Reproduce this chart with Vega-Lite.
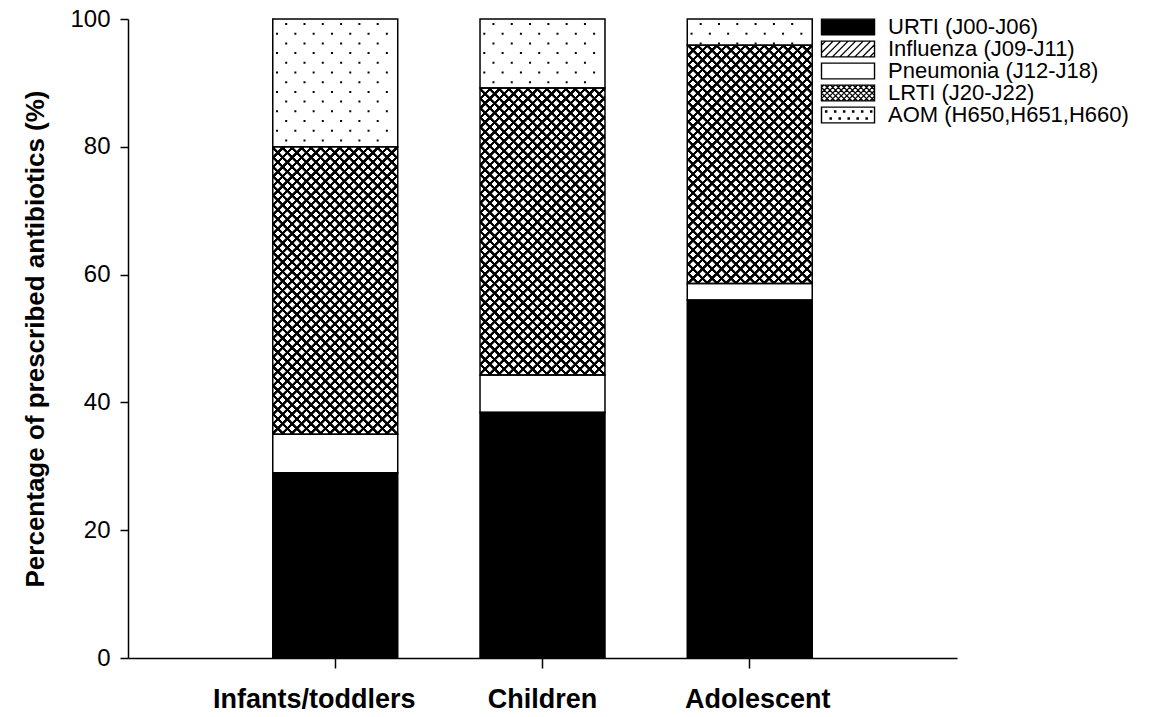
{
  "$schema": "https://vega.github.io/schema/vega-lite/v6.json",
  "width": 829,
  "height": 639,
  "autosize": "none",
  "padding": {"left": 128, "top": 19, "right": 201, "bottom": 59},
  "background": "white",
  "config": {
    "font": "Liberation Sans",
    "view": {"stroke": null},
    "axis": {"domainColor": "#000", "domainWidth": 1.5, "tickColor": "#000", "tickWidth": 1.5, "labelColor": "#000", "titleColor": "#000", "grid": false}
  },
  "params": [
    {"name": "hatchStops", "value": [
      {"offset":0,"color":"#000"},{"offset":0.0062,"color":"#000"},{"offset":0.0072,"color":"transparent"},{"offset":0.019,"color":"transparent"},
      {"offset":0.02,"color":"#000"},{"offset":0.0262,"color":"#000"},{"offset":0.0272,"color":"transparent"},{"offset":0.039,"color":"transparent"},
      {"offset":0.04,"color":"#000"},{"offset":0.0462,"color":"#000"},{"offset":0.0472,"color":"transparent"},{"offset":0.059,"color":"transparent"},
      {"offset":0.06,"color":"#000"},{"offset":0.0662,"color":"#000"},{"offset":0.0672,"color":"transparent"},{"offset":0.079,"color":"transparent"},
      {"offset":0.08,"color":"#000"},{"offset":0.0862,"color":"#000"},{"offset":0.0872,"color":"transparent"},{"offset":0.099,"color":"transparent"},
      {"offset":0.1,"color":"#000"},{"offset":0.1062,"color":"#000"},{"offset":0.1072,"color":"transparent"},{"offset":0.119,"color":"transparent"},
      {"offset":0.12,"color":"#000"},{"offset":0.1262,"color":"#000"},{"offset":0.1272,"color":"transparent"},{"offset":0.139,"color":"transparent"},
      {"offset":0.14,"color":"#000"},{"offset":0.1462,"color":"#000"},{"offset":0.1472,"color":"transparent"},{"offset":0.159,"color":"transparent"},
      {"offset":0.16,"color":"#000"},{"offset":0.1662,"color":"#000"},{"offset":0.1672,"color":"transparent"},{"offset":0.179,"color":"transparent"},
      {"offset":0.18,"color":"#000"},{"offset":0.1862,"color":"#000"},{"offset":0.1872,"color":"transparent"},{"offset":0.199,"color":"transparent"},
      {"offset":0.2,"color":"#000"},{"offset":0.2062,"color":"#000"},{"offset":0.2072,"color":"transparent"},{"offset":0.219,"color":"transparent"},
      {"offset":0.22,"color":"#000"},{"offset":0.2262,"color":"#000"},{"offset":0.2272,"color":"transparent"},{"offset":0.239,"color":"transparent"},
      {"offset":0.24,"color":"#000"},{"offset":0.2462,"color":"#000"},{"offset":0.2472,"color":"transparent"},{"offset":0.259,"color":"transparent"},
      {"offset":0.26,"color":"#000"},{"offset":0.2662,"color":"#000"},{"offset":0.2672,"color":"transparent"},{"offset":0.279,"color":"transparent"},
      {"offset":0.28,"color":"#000"},{"offset":0.2862,"color":"#000"},{"offset":0.2872,"color":"transparent"},{"offset":0.299,"color":"transparent"},
      {"offset":0.3,"color":"#000"},{"offset":0.3062,"color":"#000"},{"offset":0.3072,"color":"transparent"},{"offset":0.319,"color":"transparent"},
      {"offset":0.32,"color":"#000"},{"offset":0.3262,"color":"#000"},{"offset":0.3272,"color":"transparent"},{"offset":0.339,"color":"transparent"},
      {"offset":0.34,"color":"#000"},{"offset":0.3462,"color":"#000"},{"offset":0.3472,"color":"transparent"},{"offset":0.359,"color":"transparent"},
      {"offset":0.36,"color":"#000"},{"offset":0.3662,"color":"#000"},{"offset":0.3672,"color":"transparent"},{"offset":0.379,"color":"transparent"},
      {"offset":0.38,"color":"#000"},{"offset":0.3862,"color":"#000"},{"offset":0.3872,"color":"transparent"},{"offset":0.399,"color":"transparent"},
      {"offset":0.4,"color":"#000"},{"offset":0.4062,"color":"#000"},{"offset":0.4072,"color":"transparent"},{"offset":0.419,"color":"transparent"},
      {"offset":0.42,"color":"#000"},{"offset":0.4262,"color":"#000"},{"offset":0.4272,"color":"transparent"},{"offset":0.439,"color":"transparent"},
      {"offset":0.44,"color":"#000"},{"offset":0.4462,"color":"#000"},{"offset":0.4472,"color":"transparent"},{"offset":0.459,"color":"transparent"},
      {"offset":0.46,"color":"#000"},{"offset":0.4662,"color":"#000"},{"offset":0.4672,"color":"transparent"},{"offset":0.479,"color":"transparent"},
      {"offset":0.48,"color":"#000"},{"offset":0.4862,"color":"#000"},{"offset":0.4872,"color":"transparent"},{"offset":0.499,"color":"transparent"},
      {"offset":0.5,"color":"#000"},{"offset":0.5062,"color":"#000"},{"offset":0.5072,"color":"transparent"},{"offset":0.519,"color":"transparent"},
      {"offset":0.52,"color":"#000"},{"offset":0.5262,"color":"#000"},{"offset":0.5272,"color":"transparent"},{"offset":0.539,"color":"transparent"},
      {"offset":0.54,"color":"#000"},{"offset":0.5462,"color":"#000"},{"offset":0.5472,"color":"transparent"},{"offset":0.559,"color":"transparent"},
      {"offset":0.56,"color":"#000"},{"offset":0.5662,"color":"#000"},{"offset":0.5672,"color":"transparent"},{"offset":0.579,"color":"transparent"},
      {"offset":0.58,"color":"#000"},{"offset":0.5862,"color":"#000"},{"offset":0.5872,"color":"transparent"},{"offset":0.599,"color":"transparent"},
      {"offset":0.6,"color":"#000"},{"offset":0.6062,"color":"#000"},{"offset":0.6072,"color":"transparent"},{"offset":0.619,"color":"transparent"},
      {"offset":0.62,"color":"#000"},{"offset":0.6262,"color":"#000"},{"offset":0.6272,"color":"transparent"},{"offset":0.639,"color":"transparent"},
      {"offset":0.64,"color":"#000"},{"offset":0.6462,"color":"#000"},{"offset":0.6472,"color":"transparent"},{"offset":0.659,"color":"transparent"},
      {"offset":0.66,"color":"#000"},{"offset":0.6662,"color":"#000"},{"offset":0.6672,"color":"transparent"},{"offset":0.679,"color":"transparent"},
      {"offset":0.68,"color":"#000"},{"offset":0.6862,"color":"#000"},{"offset":0.6872,"color":"transparent"},{"offset":0.699,"color":"transparent"},
      {"offset":0.7,"color":"#000"},{"offset":0.7062,"color":"#000"},{"offset":0.7072,"color":"transparent"},{"offset":0.719,"color":"transparent"},
      {"offset":0.72,"color":"#000"},{"offset":0.7262,"color":"#000"},{"offset":0.7272,"color":"transparent"},{"offset":0.739,"color":"transparent"},
      {"offset":0.74,"color":"#000"},{"offset":0.7462,"color":"#000"},{"offset":0.7472,"color":"transparent"},{"offset":0.759,"color":"transparent"},
      {"offset":0.76,"color":"#000"},{"offset":0.7662,"color":"#000"},{"offset":0.7672,"color":"transparent"},{"offset":0.779,"color":"transparent"},
      {"offset":0.78,"color":"#000"},{"offset":0.7862,"color":"#000"},{"offset":0.7872,"color":"transparent"},{"offset":0.799,"color":"transparent"},
      {"offset":0.8,"color":"#000"},{"offset":0.8062,"color":"#000"},{"offset":0.8072,"color":"transparent"},{"offset":0.819,"color":"transparent"},
      {"offset":0.82,"color":"#000"},{"offset":0.8262,"color":"#000"},{"offset":0.8272,"color":"transparent"},{"offset":0.839,"color":"transparent"},
      {"offset":0.84,"color":"#000"},{"offset":0.8462,"color":"#000"},{"offset":0.8472,"color":"transparent"},{"offset":0.859,"color":"transparent"},
      {"offset":0.86,"color":"#000"},{"offset":0.8662,"color":"#000"},{"offset":0.8672,"color":"transparent"},{"offset":0.879,"color":"transparent"},
      {"offset":0.88,"color":"#000"},{"offset":0.8862,"color":"#000"},{"offset":0.8872,"color":"transparent"},{"offset":0.899,"color":"transparent"},
      {"offset":0.9,"color":"#000"},{"offset":0.9062,"color":"#000"},{"offset":0.9072,"color":"transparent"},{"offset":0.919,"color":"transparent"},
      {"offset":0.92,"color":"#000"},{"offset":0.9262,"color":"#000"},{"offset":0.9272,"color":"transparent"},{"offset":0.939,"color":"transparent"},
      {"offset":0.94,"color":"#000"},{"offset":0.9462,"color":"#000"},{"offset":0.9472,"color":"transparent"},{"offset":0.959,"color":"transparent"},
      {"offset":0.96,"color":"#000"},{"offset":0.9662,"color":"#000"},{"offset":0.9672,"color":"transparent"},{"offset":0.979,"color":"transparent"},
      {"offset":0.98,"color":"#000"},{"offset":0.9862,"color":"#000"},{"offset":0.9872,"color":"transparent"},{"offset":0.999,"color":"transparent"},
      {"offset":1,"color":"#000"}
    ]},
    {"name": "hatchDownIC", "expr": "{'gradient': 'linear', 'x1': 0, 'y1': 1, 'x2': 0.6052, 'y2': -0.39051, 'stops': hatchStops}"},
    {"name": "hatchUpIC", "expr": "{'gradient': 'linear', 'x1': 0, 'y1': 0, 'x2': 0.6052, 'y2': 1.39051, 'stops': hatchStops}"},
    {"name": "hatchDownAd", "expr": "{'gradient': 'linear', 'x1': 0, 'y1': 1, 'x2': 0.81969, 'y2': -0.56298, 'stops': hatchStops}"},
    {"name": "hatchUpAd", "expr": "{'gradient': 'linear', 'x1': 0, 'y1': 0, 'x2': 0.81969, 'y2': 1.56298, 'stops': hatchStops}"},
    {"name": "legendShapes", "value": {
      "URTI (J00-J06)": "M-1,-1.05H6.07V1.05H-1Z",
      "Influenza (J09-J11)": "M-1,-1.05H6.07V1.05H-1Z M-1,-0.5L-0.45,-1.05 M-1,0.5L0.55,-1.05 M-0.55,1.05L1.55,-1.05 M0.45,1.05L2.55,-1.05 M1.45,1.05L3.55,-1.05 M2.45,1.05L4.55,-1.05 M3.45,1.05L5.55,-1.05 M4.45,1.05L6.07,-0.57 M5.45,1.05L6.07,0.43",
      "Pneumonia (J12-J18)": "M-1,-1.05H6.07V1.05H-1Z",
      "LRTI (J20-J22)": "M-1,-1.05H6.07V1.05H-1Z M-1,-0.75L-0.7,-1.05 M-1,0L0.05,-1.05 M-1,0.75L0.8,-1.05 M-0.55,1.05L1.55,-1.05 M0.2,1.05L2.3,-1.05 M0.95,1.05L3.05,-1.05 M1.7,1.05L3.8,-1.05 M2.45,1.05L4.55,-1.05 M3.2,1.05L5.3,-1.05 M3.95,1.05L6.05,-1.05 M4.7,1.05L6.07,-0.32 M5.45,1.05L6.07,0.43 M-1,0.75L-0.7,1.05 M-1,0L0.05,1.05 M-1,-0.75L0.8,1.05 M-0.55,-1.05L1.55,1.05 M0.2,-1.05L2.3,1.05 M0.95,-1.05L3.05,1.05 M1.7,-1.05L3.8,1.05 M2.45,-1.05L4.55,1.05 M3.2,-1.05L5.3,1.05 M3.95,-1.05L6.05,1.05 M4.7,-1.05L6.07,0.32 M5.45,-1.05L6.07,-0.43",
      "AOM (H650,H651,H660)": "M-1,-1.05H6.07V1.05H-1Z M-0.45,-0.55h0.15v0.15h-0.15Z M0.75,-0.55h0.15v0.15h-0.15Z M1.95,-0.55h0.15v0.15h-0.15Z M3.15,-0.55h0.15v0.15h-0.15Z M4.35,-0.55h0.15v0.15h-0.15Z M5.55,-0.55h0.15v0.15h-0.15Z M0.15,0.4h0.15v0.15h-0.15Z M1.35,0.4h0.15v0.15h-0.15Z M2.55,0.4h0.15v0.15h-0.15Z M3.75,0.4h0.15v0.15h-0.15Z M4.95,0.4h0.15v0.15h-0.15Z"
    }}
  ],
  "data": {
    "values": [
      {"age": "Infants/toddlers", "cat": "URTI (J00-J06)", "pct": 29.0},
      {"age": "Infants/toddlers", "cat": "Influenza (J09-J11)", "pct": 0},
      {"age": "Infants/toddlers", "cat": "Pneumonia (J12-J18)", "pct": 6.0},
      {"age": "Infants/toddlers", "cat": "LRTI (J20-J22)", "pct": 45.0},
      {"age": "Infants/toddlers", "cat": "AOM (H650,H651,H660)", "pct": 20.0},
      {"age": "Children", "cat": "URTI (J00-J06)", "pct": 38.4},
      {"age": "Children", "cat": "Influenza (J09-J11)", "pct": 0},
      {"age": "Children", "cat": "Pneumonia (J12-J18)", "pct": 5.9},
      {"age": "Children", "cat": "LRTI (J20-J22)", "pct": 44.9},
      {"age": "Children", "cat": "AOM (H650,H651,H660)", "pct": 10.8},
      {"age": "Adolescent", "cat": "URTI (J00-J06)", "pct": 56.0},
      {"age": "Adolescent", "cat": "Influenza (J09-J11)", "pct": 0},
      {"age": "Adolescent", "cat": "Pneumonia (J12-J18)", "pct": 2.6},
      {"age": "Adolescent", "cat": "LRTI (J20-J22)", "pct": 37.3},
      {"age": "Adolescent", "cat": "AOM (H650,H651,H660)", "pct": 4.1}
    ]
  },
  "transform": [
    {"stack": "pct", "groupby": ["age"], "as": ["y0", "y1"]}
  ],
  "encoding": {
    "x": {
      "field": "age", "type": "nominal",
      "sort": ["Infants/toddlers", "Children", "Adolescent"],
      "scale": {"paddingInner": 0.397, "paddingOuter": 0.6985},
      "axis": {
        "labelAngle": 0, "labelFontSize": 27, "labelFontWeight": "bold", "labelPadding": 18, "labelLimit": 400, "tickSize": 10,
        "labelOffset": {"condition": [{"test": "datum.value === 'Infants/toddlers'", "value": -21}, {"test": "datum.value === 'Adolescent'", "value": 8}], "value": 0}
      },
      "title": null
    },
    "y": {
      "field": "y1", "type": "quantitative",
      "scale": {"domain": [0, 100], "nice": false},
      "axis": {"values": [0, 20, 40, 60, 80, 100], "labelFontSize": 24, "labelPadding": 10, "tickSize": 8, "titleFontSize": 26, "titleFontWeight": "bold", "titlePadding": 21},
      "title": "Percentage of prescribed antibiotics (%)"
    },
    "y2": {"field": "y0"}
  },
  "layer": [
    {
      "mark": {"type": "bar"},
      "encoding": {
        "fill": {
          "field": "cat", "type": "nominal",
          "scale": {
            "domain": ["URTI (J00-J06)", "Influenza (J09-J11)", "Pneumonia (J12-J18)", "LRTI (J20-J22)", "AOM (H650,H651,H660)"],
            "range": ["#000", "#fff", "#fff", "#fff", "#fff"]
          },
          "legend": {
            "orient": "none", "legendX": 690, "legendY": -3, "title": null, "padding": 0,
            "labelFontSize": 22, "labelColor": "#000", "labelOffset": 48, "labelLimit": 400,
            "symbolSize": 225, "rowPadding": 0,
            "encode": {
              "symbols": {
                "update": {
                  "shape": {"signal": "legendShapes[datum.value]"},
                  "stroke": {"value": "#000"},
                  "strokeWidth": {"value": 1.4},
                  "opacity": {"value": 1}
                }
              }
            }
          }
        }
      }
    },
    {
      "transform": [{"filter": "datum.cat === 'LRTI (J20-J22)' && datum.age !== 'Adolescent'"}],
      "mark": {"type": "bar", "fill": {"expr": "hatchDownIC"}}
    },
    {
      "transform": [{"filter": "datum.cat === 'LRTI (J20-J22)' && datum.age !== 'Adolescent'"}],
      "mark": {"type": "bar", "fill": {"expr": "hatchUpIC"}}
    },
    {
      "transform": [{"filter": "datum.cat === 'LRTI (J20-J22)' && datum.age === 'Adolescent'"}],
      "mark": {"type": "bar", "fill": {"expr": "hatchDownAd"}}
    },
    {
      "transform": [{"filter": "datum.cat === 'LRTI (J20-J22)' && datum.age === 'Adolescent'"}],
      "mark": {"type": "bar", "fill": {"expr": "hatchUpAd"}}
    },
    {
      "transform": [{"filter": "datum.cat === 'AOM (H650,H651,H660)'"}],
      "layer": [
        {"mark": {"type": "rule", "color": "#000", "strokeWidth": 2, "strokeDash": [2, 17.4], "strokeDashOffset": 5.7, "xOffset": -58.2}},
        {"mark": {"type": "rule", "color": "#000", "strokeWidth": 2, "strokeDash": [2, 17.4], "strokeDashOffset": 15.4, "xOffset": -49.05}},
        {"mark": {"type": "rule", "color": "#000", "strokeWidth": 2, "strokeDash": [2, 17.4], "strokeDashOffset": 5.7, "xOffset": -39.9}},
        {"mark": {"type": "rule", "color": "#000", "strokeWidth": 2, "strokeDash": [2, 17.4], "strokeDashOffset": 15.4, "xOffset": -30.75}},
        {"mark": {"type": "rule", "color": "#000", "strokeWidth": 2, "strokeDash": [2, 17.4], "strokeDashOffset": 5.7, "xOffset": -21.6}},
        {"mark": {"type": "rule", "color": "#000", "strokeWidth": 2, "strokeDash": [2, 17.4], "strokeDashOffset": 15.4, "xOffset": -12.45}},
        {"mark": {"type": "rule", "color": "#000", "strokeWidth": 2, "strokeDash": [2, 17.4], "strokeDashOffset": 5.7, "xOffset": -3.3}},
        {"mark": {"type": "rule", "color": "#000", "strokeWidth": 2, "strokeDash": [2, 17.4], "strokeDashOffset": 15.4, "xOffset": 5.85}},
        {"mark": {"type": "rule", "color": "#000", "strokeWidth": 2, "strokeDash": [2, 17.4], "strokeDashOffset": 5.7, "xOffset": 15}},
        {"mark": {"type": "rule", "color": "#000", "strokeWidth": 2, "strokeDash": [2, 17.4], "strokeDashOffset": 15.4, "xOffset": 24.15}},
        {"mark": {"type": "rule", "color": "#000", "strokeWidth": 2, "strokeDash": [2, 17.4], "strokeDashOffset": 5.7, "xOffset": 33.3}},
        {"mark": {"type": "rule", "color": "#000", "strokeWidth": 2, "strokeDash": [2, 17.4], "strokeDashOffset": 15.4, "xOffset": 42.45}},
        {"mark": {"type": "rule", "color": "#000", "strokeWidth": 2, "strokeDash": [2, 17.4], "strokeDashOffset": 5.7, "xOffset": 51.6}}
      ]
    },
    {
      "mark": {"type": "bar", "fill": "transparent", "stroke": "#000", "strokeWidth": 1.5}
    }
  ]
}
